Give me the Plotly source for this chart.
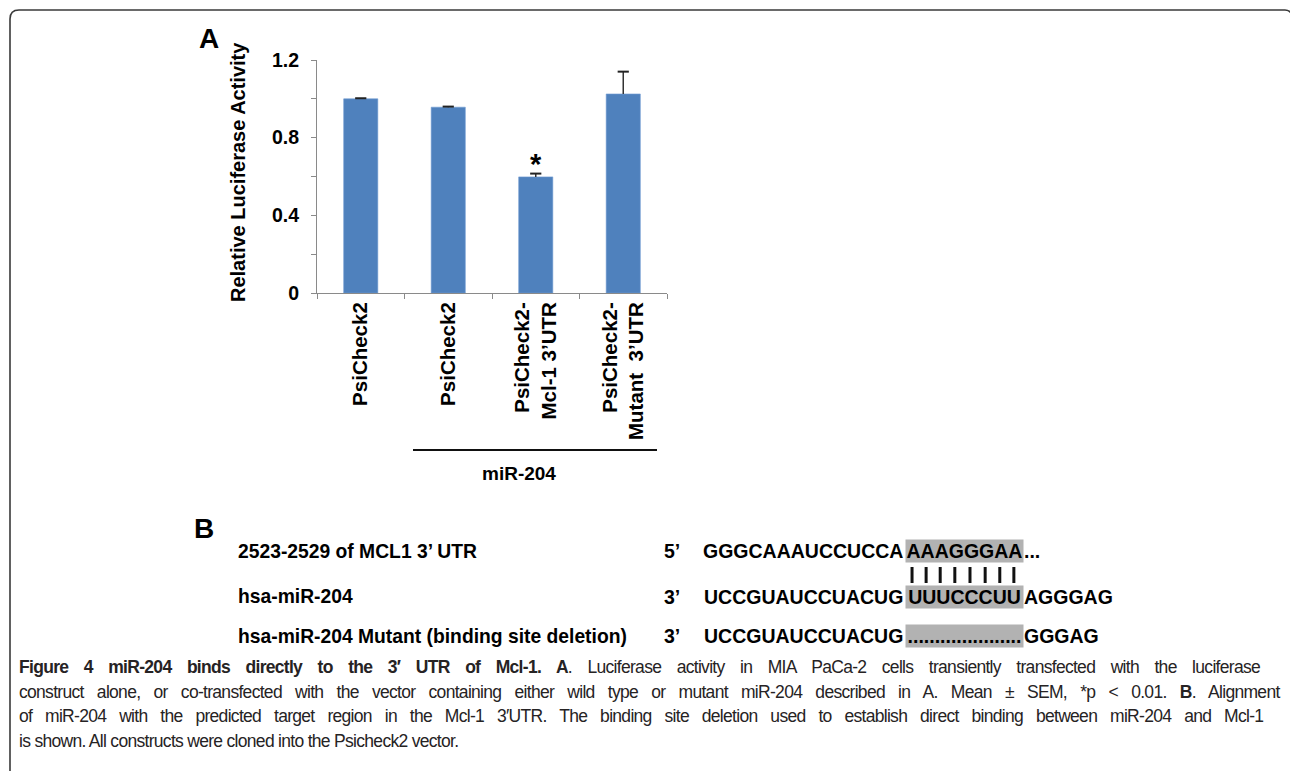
import plotly.graph_objects as go

# ---- data ---------------------------------------------------------------
constructs = ["PsiCheck2", "PsiCheck2", "PsiCheck2-<br>Mcl-1 3’UTR", "PsiCheck2-<br>Mutant  3’UTR"]
rel_activity = [1.00, 0.957, 0.598, 1.025]
sem = [0.003, 0.003, 0.017, 0.115]
significant = [False, False, True, False]
y_ticks = [0, 0.2, 0.4, 0.6, 0.8, 1.0, 1.2]
y_ticklabels = ["0", "", "0.4", "", "0.8", "", "1.2"]

alignment_labels = ["2523-2529 of MCL1 3’ UTR", "hsa-miR-204", "hsa-miR-204 Mutant (binding site deletion)"]
alignment_ends = ["5’", "3’", "3’"]
seq_before = ["GGGCAAAUCCUCCA", "UCCGUAUCCUACUG", "UCCGUAUCCUACUG"]
seq_site = ["AAAGGGAA", "UUUCCCUU", "....................."]
seq_after = ["...", "AGGGAG", "GGGAG"]

caption_lines = [
    "<b>Figure 4 miR-204 binds directly to the 3′ UTR of Mcl-1. A</b>. Luciferase activity in MIA PaCa-2 cells transiently transfected with the luciferase",
    "construct alone, or co-transfected with the vector containing either wild type or mutant miR-204 described in A. Mean ± SEM, *p &lt; 0.01. <b>B</b>. Alignment",
    "of miR-204 with the predicted target region in the Mcl-1 3′UTR. The binding site deletion used to establish direct binding between miR-204 and Mcl-1",
    "is shown. All constructs were cloned into the Psicheck2 vector.",
]
# extra inter-word spacing so the first three caption lines are justified
caption_word_spacing = [11.3, 9.0, 8.7, 0.0]

# ---- page geometry (pixels) --------------------------------------------
W, H = 1290, 771
PL, PR, PT, PB = 317, 667, 60, 293

ARIAL = "Arial, Liberation Sans, Helvetica, sans-serif"
NARROW = "Liberation Sans Narrow, Arial Narrow, Liberation Sans, sans-serif"
BAR_BLUE = "#4f81bd"
AXIS_GREY = "#8a8a8a"


def fx(x):
    return (x - PL) / (PR - PL)


def fy(y):
    return (PB - y) / (PB - PT)


x_pos = list(range(len(constructs)))

fig = go.Figure()
fig.add_trace(go.Bar(
    x=x_pos, y=rel_activity, width=0.39,
    marker=dict(color=BAR_BLUE, line=dict(color="#6f9bd1", width=0.6)),
    hoverinfo="skip", showlegend=False,
))

# upper error whiskers (Mean + SEM)
stem_x, stem_y = [], []
for xi, v, e in zip(x_pos, rel_activity, sem):
    stem_x += [xi, xi, None]
    stem_y += [v, v + e, None]
fig.add_trace(go.Scatter(
    x=stem_x, y=stem_y, mode="lines",
    line=dict(color="#333333", width=1.5), hoverinfo="skip", showlegend=False,
))
fig.add_trace(go.Scatter(
    x=x_pos, y=[v + e for v, e in zip(rel_activity, sem)], mode="markers",
    marker=dict(symbol="line-ew", size=8, line=dict(color="#222222", width=2)),
    hoverinfo="skip", showlegend=False,
))

annotations = []
for xi, v, e, s in zip(x_pos, rel_activity, sem, significant):
    if s:
        annotations.append(dict(
            x=xi, y=v + e, xref="x", yref="y", text="*", showarrow=False,
            yanchor="bottom", yshift=-8, font=dict(family=ARIAL, size=29, color="#000", weight="bold"),
        ))


def label(text, x, y, size, xanchor="left", yanchor="middle", weight="bold",
          family=ARIAL, color="#000000", **kw):
    annotations.append(dict(
        text=text, x=fx(x), y=fy(y), xref="paper", yref="paper", showarrow=False,
        xanchor=xanchor, yanchor=yanchor,
        font=dict(family=family, size=size, color=color, weight=weight), **kw,
    ))


# panel A labels
label("A", 209, 38, 28, xanchor="center")
label("Relative Luciferase Activity", 238, 172, 20, xanchor="center", textangle=-90)
label("miR-204", 519, 473, 19, xanchor="center")

# panel B alignment
label("B", 204, 528, 28, xanchor="center")
row_y = [551, 597, 636]
for i, yy in enumerate(row_y):
    label(alignment_labels[i], 236, yy, 19.3)
    label(alignment_ends[i], 662, yy, 19.5)
    label(seq_before[i], 905, yy, 19.5, xanchor="right")
    label(seq_site[i], 905, yy, 19.5, bgcolor="#b2b2b2", borderpad=0, width=117)
    label(seq_after[i], 1022, yy, 19.5)

# base-pairing bars under the target site
glyph_w = {"A": 0.722, "G": 0.778, "U": 0.722, "C": 0.722}
pair_x, cursor = [], 905.0
for ch in seq_site[0]:
    w = glyph_w[ch] * 19.5
    pair_x.append(cursor + w / 2)
    cursor += w

shapes = []
for px in pair_x:
    shapes.append(dict(type="line", xref="paper", yref="paper",
                       x0=fx(px), x1=fx(px), y0=fy(567), y1=fy(583),
                       line=dict(color="#111111", width=3)))

# bracket grouping the miR-204 co-transfections
shapes.append(dict(type="line", xref="paper", yref="paper",
                   x0=fx(413), x1=fx(657), y0=fy(450), y1=fy(450),
                   line=dict(color="#111111", width=2)))

# rounded outer frame
frame = (f"M {fx(10)},{fy(771)} L {fx(10)},{fy(19)} Q {fx(10)},{fy(10)} {fx(19)},{fy(10)} "
         f"L {fx(1285)},{fy(10)} Q {fx(1289)},{fy(10)} {fx(1291)},{fy(13)}")
shapes.append(dict(type="path", xref="paper", yref="paper", path=frame,
                   line=dict(color="#3a3a3a", width=1.6)))

# caption
for i, (line, ws) in enumerate(zip(caption_lines, caption_word_spacing)):
    styled = f'<span style="letter-spacing:-0.7px;word-spacing:{ws}px">{line}</span>'
    label(styled, 17, 667 + i * 24.5, 17.5, weight="normal", family=NARROW, color="#262324")

fig.update_layout(
    width=W, height=H,
    margin=dict(l=PL, r=W - PR, t=PT, b=H - PB, pad=0),
    paper_bgcolor="white", plot_bgcolor="white",
    showlegend=False,
    annotations=annotations, shapes=shapes,
    xaxis=dict(
        range=[-0.5, 3.5], tickvals=x_pos, ticktext=constructs, tickangle=-90,
        ticks="", showline=True, linecolor=AXIS_GREY, linewidth=1,
        showgrid=False, zeroline=False,
        tickfont=dict(family=ARIAL, size=20.5, color="#000", weight="bold"),
        minor=dict(tickvals=[-0.5, 0.5, 1.5, 2.5, 3.5], ticks="outside",
                   ticklen=5, tickcolor=AXIS_GREY, showgrid=False),
    ),
    yaxis=dict(
        range=[0, 1.2], tickvals=y_ticks, ticktext=y_ticklabels,
        ticks="outside", ticklen=5, tickcolor=AXIS_GREY,
        showline=True, linecolor=AXIS_GREY, linewidth=1,
        showgrid=False, zeroline=False, ticklabelstandoff=8,
        tickfont=dict(family=ARIAL, size=19.5, color="#000", weight="bold"),
    ),
)

fig.write_html("out.html")
